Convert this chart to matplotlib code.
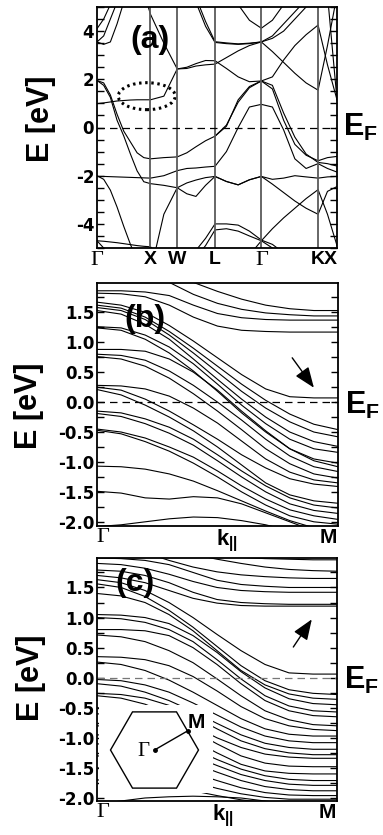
import numpy as np
import matplotlib.pyplot as plt
from matplotlib.patches import Ellipse, Polygon, Rectangle
from matplotlib.ticker import MultipleLocator, FixedLocator

plt.rcParams['font.family'] = ['Liberation Sans', 'DejaVu Sans']
plt.rcParams['font.weight'] = 'bold'
plt.rcParams['axes.unicode_minus'] = False
plt.rcParams['mathtext.fontset'] = 'custom'
plt.rcParams['mathtext.bf'] = 'Liberation Sans:bold'
plt.rcParams['mathtext.rm'] = 'Liberation Sans:bold'
plt.rcParams['mathtext.it'] = 'Liberation Sans:bold'

nan = np.nan

# ---------------- panel (a): bulk bands along G-X-W-L-G-K-X
sym_a = [0.0, 1.0, 1.5, 2.207, 3.073, 4.134, 4.488]
sym_a_labels = ['\u0393', 'X', 'W', 'L', '\u0393', 'K', 'X']
k_a = [0, 0.125, 0.25, 0.375, 0.5, 0.625, 0.75, 0.875, 1.0,
       1.25, 1.5,
       1.68, 1.85, 2.03, 2.207,
       2.42, 2.64, 2.85, 3.073,
       3.28, 3.49, 3.70, 3.91, 4.134,
       4.31, 4.488]

bands_a = [
    [-4.7, -4.72, -4.75, -4.78, -4.82, -4.86, -4.9, -4.93, -4.95, -5.5, -6.0,
     -5.6, -5.1, -4.6, -4.0, -4.0, -4.05, -4.3, -4.67, -4.85, -5.2, -5.6, -6, -6, -6, -6],
    [-4.7, -5.0, -5.5, -6, -6, -6, -6, -6, -6, -6, -6,
     -6, -5.4, -4.9, -4.25, -4.2, -4.3, -4.5, -4.7, -5.0, -5.5, -6, -6, -6, -6, -6],
    [nan] * 16 + [-6.0, -5.3, -4.7, -4.2, -3.75, -3.35, -2.95, -2.58, -3.6, -4.9],
    [-2.0, -2.15, -2.6, -3.3, -4.1, -4.85, -5.5, -6, -6, -3.6, -2.5,
     -2.3, -2.18, -2.08, -2.03, -2.24, -2.38, -2.17, -2.03, -2.15, -2.1, -2.0, -2.05, -2.1, -2.05, -2.03],
    [1.95, 1.75, 1.25, 0.3, -0.35, -1.1, -1.8, -2.25, -2.33, -2.4, -2.5,
     -2.75, -2.86, -2.4, -2.03, -2.24, -2.38, -2.17, -2.03, -2.35, -2.7, -3.05, -3.35, -3.6, -2.65, -2.45],
    [1.95, 1.85, 1.35, 0.55, -0.15, -0.6, -1.05, -1.25, -1.3, -1.25, -1.22,
     -1.05, -0.8, -0.55, -0.36, 0.05, 1.15, 1.7, 1.93, 1.6, 0.3, -0.7, -1.15, -1.38, -1.25, -1.2],
    [-2.03, -2.03, -2.04, -2.05, -2.06, -2.07, -2.08, -2.09, -2.1, -2.0, -1.79,
     -1.7, -1.68, -1.64, -1.61, -1.0, 0.0, 0.85, 0.96, 0.85, -0.1, -1.3, -1.7, -1.5, -1.7, -1.85],
    [0.99, 1.02, 1.06, 1.1, 1.12, 1.14, 1.15, 1.15, 1.15, 1.3, 2.43,
     2.5, 2.65, 2.78, 2.77, 2.45, 2.1, 1.9, 1.93, 2.1, 2.8, 3.4, 3.85, 4.25, 2.6, 1.15],
    [nan] * 6 + [6.0, 5.6, 4.7, 3.5, 2.43,
     2.45, 2.55, 2.6, 2.63, 2.9, 3.18, 3.4, 3.55, 3.15, 2.7, 2.25, 1.85, 1.55, 3.4, 5.5],
    [nan] * 11 + [6.0, 5.2, 4.2, 3.53, 3.48, 3.45, 3.48, 3.55, 3.8, 4.3, 4.8, 5.3, 6.0, nan, nan],
    [nan] * 11 + [6.0, 5.4, 4.4, 3.56, 3.51, 3.47, 3.5, 3.55, 3.7, 4.0, 4.5, 5.0, 5.5, 6.0, nan],
    [nan] * 15 + [6.0, 5.1, 4.45, 4.12, 4.45, 5.1, 6.0, nan, nan, nan, nan],
    [nan] * 14 + [-0.36, 0.1, 1.05, 1.65, 1.93, 1.75, 0.6, -0.4, -1.1, -1.45, -1.5, -1.6],
    [4.1, 4.5, 5.1, 6.0] + [nan] * 22,
    [3.55, 3.45, 3.55, 4.3, 5.2, 6.0] + [nan] * 20,
    [3.55, 3.8, 4.5, 5.2, 6.0] + [nan] * 21,
    [nan] * 23 + [6.0, 5.5, 1.15],
]

# ---------------- panel (b): slab bands G -> M
x_b = [0.0, 0.1, 0.2, 0.3, 0.4, 0.5, 0.6, 0.7, 0.8, 0.9, 1.0]
bands_b = [
    [1.86, 1.86, 1.84, 1.78, 1.62, 1.48, 1.41, 1.38, 1.37, 1.37, 1.37],
    [1.82, 1.81, 1.76, 1.62, 1.42, 1.27, 1.20, 1.18, 1.17, 1.17, 1.17],
    [1.67, 1.62, 1.5, 1.28, 1.02, 0.74, 0.46, 0.22, 0.09, 0.07, 0.07],
    [1.62, 1.57, 1.42, 1.18, 0.9, 0.6, 0.3, 0.03, -0.2, -0.37, -0.46],
    [1.58, 1.53, 1.38, 1.12, 0.82, 0.5, 0.18, -0.1, -0.33, -0.5, -0.58],
    [1.53, 1.47, 1.3, 1.05, 0.72, 0.38, 0.05, -0.25, -0.5, -0.66, -0.74],
    [1.26, 1.24, 1.12, 0.92, 0.64, 0.3, -0.05, -0.36, -0.62, -0.78, -0.84],
    [1.24, 1.2, 1.05, 0.82, 0.52, 0.18, -0.18, -0.5, -0.78, -0.95, -1.02],
    [0.88, 0.88, 0.85, 0.72, 0.5, 0.2, -0.15, -0.48, -0.78, -0.98, -1.08],
    [0.80, 0.78, 0.7, 0.52, 0.28, 0.0, -0.3, -0.62, -0.9, -1.08, -1.16],
    [0.76, 0.72, 0.6, 0.4, 0.14, -0.15, -0.46, -0.78, -1.03, -1.2, -1.27],
    [0.28, 0.27, 0.22, 0.1, -0.1, -0.35, -0.65, -0.95, -1.17, -1.3, -1.35],
    [0.25, 0.2, 0.05, -0.15, -0.38, -0.62, -0.88, -1.1, -1.28, -1.37, -1.41],
    [0.21, 0.12, -0.05, -0.25, -0.48, -0.75, -1.05, -1.35, -1.55, -1.65, -1.69],
    [-0.15, -0.18, -0.28, -0.42, -0.62, -0.88, -1.15, -1.4, -1.6, -1.72, -1.77],
    [-0.19, -0.24, -0.36, -0.52, -0.72, -0.98, -1.25, -1.5, -1.7, -1.81, -1.86],
    [-0.45, -0.5, -0.6, -0.75, -0.92, -1.15, -1.4, -1.62, -1.8, -1.9, -1.96],
    [-0.47, -0.53, -0.66, -0.82, -1.02, -1.25, -1.5, -1.72, -1.9, -2.0, -2.04],
    [-1.07, -1.08, -1.12, -1.2, -1.32, -1.48, -1.65, -1.82, -1.98, -2.1, -2.15],
    [-1.49, -1.52, -1.6, -1.62, -1.58, -1.6, -1.7, -1.85, -2.0, -2.15, -2.25],
    [-2.08, -2.05, -2.0, -1.95, -1.92, -1.93, -1.98, -2.05, -2.15, -2.25, -2.3],
    [2.6, 2.55, 2.4, 2.2, 2.0, 1.85, 1.72, 1.62, 1.56, 1.53, 1.53],
    [2.3, 2.25, 2.15, 2.0, 1.8, 1.65, 1.55, 1.49, 1.46, 1.44, 1.44],
]

# ---------------- panel (c): thicker slab G -> M
x_c = [0.0, 0.1, 0.2, 0.3, 0.4, 0.5, 0.6, 0.7, 0.8, 0.9, 1.0]
bands_c = [
    [2.2, 2.18, 2.12, 2.08, 2.05, 2.02, 2.0, 1.98, 1.97, 1.96, 1.96],
    [2.45, 2.4, 2.3, 2.15, 2.05, 1.97, 1.9, 1.84, 1.8, 1.78, 1.77],
    [2.3, 2.22, 2.08, 1.95, 1.84, 1.76, 1.71, 1.68, 1.66, 1.65, 1.65],
    [1.99, 1.98, 1.95, 1.88, 1.75, 1.62, 1.55, 1.52, 1.5, 1.5, 1.5],
    [1.9, 1.88, 1.82, 1.72, 1.6, 1.5, 1.45, 1.43, 1.42, 1.42, 1.42],
    [1.79, 1.77, 1.7, 1.58, 1.42, 1.3, 1.25, 1.23, 1.22, 1.22, 1.22],
    [1.7, 1.66, 1.58, 1.45, 1.32, 1.24, 1.2, 1.19, 1.19, 1.19, 1.19],
    [1.63, 1.58, 1.45, 1.25, 1.0, 0.72, 0.45, 0.22, 0.08, 0.06, 0.06],
    [1.56, 1.5, 1.35, 1.12, 0.84, 0.52, 0.2, -0.05, -0.2, -0.26, -0.28],
    [1.4, 1.36, 1.25, 1.05, 0.78, 0.45, 0.12, -0.12, -0.27, -0.34, -0.36],
    [1.05, 1.04, 1.0, 0.9, 0.7, 0.42, 0.1, -0.17, -0.35, -0.43, -0.45],
    [1.0, 0.98, 0.92, 0.8, 0.6, 0.3, -0.02, -0.3, -0.47, -0.55, -0.57],
    [0.8, 0.8, 0.78, 0.7, 0.5, 0.22, -0.1, -0.38, -0.55, -0.63, -0.65],
    [0.71, 0.68, 0.6, 0.45, 0.25, -0.02, -0.3, -0.55, -0.7, -0.78, -0.8],
    [0.35, 0.34, 0.3, 0.2, 0.02, -0.22, -0.48, -0.68, -0.8, -0.86, -0.88],
    [0.26, 0.22, 0.12, -0.04, -0.24, -0.46, -0.68, -0.85, -0.94, -0.97, -0.97],
    [-0.03, -0.05, -0.12, -0.24, -0.42, -0.62, -0.82, -0.97, -1.05, -1.08, -1.08],
    [-0.1, -0.14, -0.24, -0.38, -0.56, -0.76, -0.95, -1.09, -1.16, -1.19, -1.19],
    [-0.26, -0.28, -0.34, -0.46, -0.64, -0.85, -1.05, -1.18, -1.25, -1.28, -1.28],
    [-0.3, -0.34, -0.44, -0.6, -0.8, -1.0, -1.16, -1.27, -1.32, -1.34, -1.34],
    [-0.5, -0.52, -0.58, -0.7, -0.88, -1.1, -1.3, -1.42, -1.47, -1.48, -1.48],
    [-0.6, -0.63, -0.72, -0.86, -1.04, -1.25, -1.44, -1.55, -1.59, -1.6, -1.6],
    [-0.8, -0.82, -0.9, -1.02, -1.18, -1.36, -1.52, -1.63, -1.69, -1.71, -1.71],
    [-0.95, -0.97, -1.04, -1.15, -1.3, -1.46, -1.61, -1.71, -1.77, -1.79, -1.79],
    [-1.1, -1.12, -1.18, -1.28, -1.42, -1.57, -1.71, -1.81, -1.86, -1.88, -1.88],
    [-1.3, -1.32, -1.37, -1.46, -1.58, -1.71, -1.83, -1.91, -1.95, -1.96, -1.96],
    [-1.5, -1.52, -1.56, -1.63, -1.73, -1.84, -1.93, -1.99, -2.02, -2.02, -2.02],
    [-1.7, -1.71, -1.74, -1.8, -1.88, -1.96, -2.03, -2.08, -2.1, -2.1, -2.1],
    [-2.1, -2.05, -2.0, -1.98, -1.97, -1.98, -2.0, -2.05, -2.1, -2.15, -2.2],
]

fig = plt.figure(figsize=(3.83, 8.35), dpi=100)
axa = fig.add_axes([97 / 383, 1 - 248 / 835, 240 / 383, 241 / 835])
axb = fig.add_axes([97 / 383, 1 - 526 / 835, 241 / 383, 243 / 835])
axc = fig.add_axes([97 / 383, 1 - 801 / 835, 240 / 383, 243 / 835])


def style_axis(ax):
    for s in ax.spines.values():
        s.set_linewidth(1.3)
    ax.tick_params(axis='y', which='both', direction='in', left=True, right=True,
                   length=5, width=1.0, pad=2)
    ax.tick_params(axis='x', which='both', length=0)


def bold_ticks(ax):
    for t in ax.get_yticklabels():
        t.set_fontfamily('DejaVu Sans')
        t.set_fontweight('bold')
        t.set_fontsize(12)


# ---- (a)
for b in bands_a:
    axa.plot(k_a, b, color='k', lw=0.8)
axa.set_xlim(0, 4.488)
axa.set_ylim(-5, 5)
for k in sym_a[1:-1]:
    axa.axvline(k, color='#5a5a5a', lw=1.3)
axa.axhline(0, color='k', lw=0.9, ls=(0, (6, 4)))
style_axis(axa)
axa.yaxis.set_major_locator(FixedLocator([-4, -2, 0, 2, 4]))
axa.yaxis.set_minor_locator(MultipleLocator(0.5))
bold_ticks(axa)
axa.set_xticks(sym_a)
axa.set_xticklabels(sym_a_labels, fontsize=14)
for i, t in enumerate(axa.get_xticklabels()):
    if sym_a_labels[i] == '\u0393':
        t.set_fontfamily('Liberation Serif')
        t.set_fontweight('normal')
        t.set_fontsize(16)
axa.get_xticklabels()[-1].set_ha('right')
axa.tick_params(axis='x', pad=2)
axa.add_patch(Ellipse((0.93, 1.30), 1.066, 1.12, fill=False, lw=2.2,
                      ls=(0, (0.8, 1.2)), color='k'))
axa.text(0.99, 3.62, '(a)', fontsize=23, ha='center', va='center')
axa.text(1.025, -0.36, r'$\mathbf{E_F}$', fontsize=22, va='baseline',
         transform=axa.get_yaxis_transform())
axa.text(-0.235, 0.535, 'E [eV]', fontsize=22, rotation=90, ha='center', va='center',
         transform=axa.transAxes)

# ---- (b) and (c)
for ax, xs, bands, ylim, dash_col in [(axb, x_b, bands_b, (-2.07, 1.99), 'k'),
                                       (axc, x_c, bands_c, (-2.05, 1.99), '#777777')]:
    for b in bands:
        ax.plot(xs, b, color='k', lw=0.8)
    ax.set_xlim(0, 1)
    ax.set_ylim(*ylim)
    ax.axhline(0, color=dash_col, lw=0.9, ls=(0, (6, 4)), zorder=2.1)
    style_axis(ax)
    ax.yaxis.set_major_locator(MultipleLocator(0.5))
    ax.yaxis.set_minor_locator(MultipleLocator(0.25))
    ax.yaxis.set_major_formatter('{x:.1f}')
    bold_ticks(ax)
    ax.set_xticks([])
    ax.text(1.03, -0.19, r'$\mathbf{E_F}$', fontsize=22, va='baseline',
            transform=ax.get_yaxis_transform())
    ax.text(0.025, -0.008, '\u0393', fontsize=16, family='Liberation Serif',
            weight='normal', ha='center', va='top', transform=ax.transAxes)
    ax.text(0.96, -0.008, 'M', fontsize=15, ha='center', va='top', transform=ax.transAxes)

axb.text(0.54, -0.008, r'$\mathbf{k}_{\mathbf{||}}$', fontsize=16, ha='center', va='top',
         transform=axb.transAxes)
axc.text(0.525, -0.008, r'$\mathbf{k}_{\mathbf{||}}$', fontsize=16, ha='center', va='top',
         transform=axc.transAxes)
axb.text(0.2, 1.39, '(b)', fontsize=23, ha='center', va='center')
axc.text(0.16, 1.58, '(c)', fontsize=23, ha='center', va='center')
axb.text(-0.282, 0.495, 'E [eV]', fontsize=22, rotation=90, ha='center', va='center',
         transform=axb.transAxes)
axc.text(-0.275, 0.506, 'E [eV]', fontsize=22, rotation=90, ha='center', va='center',
         transform=axc.transAxes)

arrow = dict(arrowstyle='-|>,head_length=0.9,head_width=0.35', color='k', lw=1.0,
             mutation_scale=14, shrinkA=0, shrinkB=0)
axb.annotate('', xy=(0.90, 0.24), xytext=(0.81, 0.74), arrowprops=arrow)
axc.annotate('', xy=(0.895, 0.97), xytext=(0.818, 0.51), arrowprops=arrow)

# white box behind the Brillouin-zone inset
axc.add_patch(Rectangle((0.007, 0.033), 0.476, 0.362, transform=axc.transAxes,
                        facecolor='white', edgecolor='none', zorder=2.2))

ins = fig.add_axes([98 / 383, 1 - 797 / 835, 115 / 383, 94 / 835])
ins.set_xlim(-56.5, 58.5)
ins.set_ylim(-47, 47)
ins.axis('off')
ang = np.deg2rad(np.arange(0, 360, 60))
hexv = np.column_stack([44 * np.cos(ang), 44 * np.sin(ang)])
ins.add_patch(Polygon(hexv, closed=True, fill=False, lw=1.0, color='k'))
mpt = (hexv[0] + hexv[1]) / 2
ins.plot([0, mpt[0]], [0, mpt[1]], color='k', lw=1.0)
ins.plot([0, mpt[0]], [0, mpt[1]], 'ko', ms=2.5)
ins.text(-11, -1, '\u0393', fontsize=15, family='Liberation Serif', weight='normal',
         ha='center', va='center')
ins.text(42, 27, 'M', fontsize=15, ha='center', va='center')

fig.savefig('out.png', dpi=100)
